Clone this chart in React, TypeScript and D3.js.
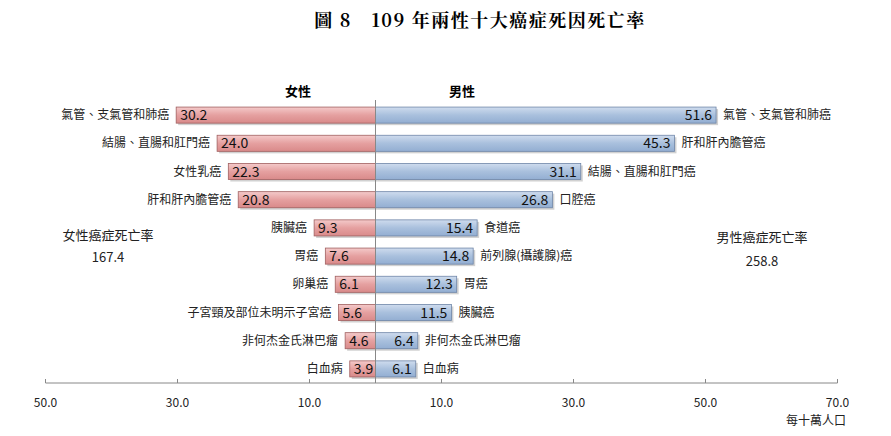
import React from "react";
import * as d3 from "d3";

const femaleCategories = ["氣管、支氣管和肺癌", "結腸、直腸和肛門癌", "女性乳癌", "肝和肝內膽管癌", "胰臟癌", "胃癌", "卵巢癌", "子宮頸及部位未明示子宮癌", "非何杰金氏淋巴瘤", "白血病"];
const femaleValues = [30.2, 24.0, 22.3, 20.8, 9.3, 7.6, 6.1, 5.6, 4.6, 3.9];
const maleCategories = ["氣管、支氣管和肺癌", "肝和肝內膽管癌", "結腸、直腸和肛門癌", "口腔癌", "食道癌", "前列腺(攝護腺)癌", "胃癌", "胰臟癌", "非何杰金氏淋巴瘤", "白血病"];
const maleValues = [51.6, 45.3, 31.1, 26.8, 15.4, 14.8, 12.3, 11.5, 6.4, 6.1];
const leftTicks = [50, 30, 10];
const rightTicks = [10, 30, 50, 70];
const title = "圖 8　109 年兩性十大癌症死因死亡率";
const femaleTotalLabel = "女性癌症死亡率";
const femaleTotal = "167.4";
const maleTotalLabel = "男性癌症死亡率";
const maleTotal = "258.8";
const unitLabel = "每十萬人口";

const W = 891;
const H = 436;
const CENTER = 375.5;
const FONT = "'Noto Sans CJK TC', 'Noto Sans', sans-serif";

export default function App() {
  const xL = d3.scaleLinear().domain([0, 50]).range([CENTER, 45.5]);
  const xR = d3.scaleLinear().domain([0, 70]).range([CENTER, 837.5]);
  const idx = d3.range(femaleValues.length);
  const y = d3.scaleBand<number>().domain(idx).range([101, 383]).paddingInner(0.43).paddingOuter(0.215);
  const bh = y.bandwidth();
  const axisY = 383;

  return (
    <svg width={W} height={H} style={{ position: "absolute", left: 0, top: 0, background: "#fff" }} fontFamily={FONT}>
      <defs>
        <linearGradient id="gF" x1="0" y1="0" x2="0" y2="1">
          <stop offset="0" stopColor="#f4caca" />
          <stop offset="0.5" stopColor="#e5a0a0" />
          <stop offset="1" stopColor="#d98a8a" />
        </linearGradient>
        <linearGradient id="gM" x1="0" y1="0" x2="0" y2="1">
          <stop offset="0" stopColor="#cfdcee" />
          <stop offset="0.5" stopColor="#a9c0dd" />
          <stop offset="1" stopColor="#93aed2" />
        </linearGradient>
      </defs>
      <text x={480} y={27} textAnchor="middle" fontFamily="'Noto Serif CJK TC', 'DejaVu Serif', 'Liberation Serif', serif" fontWeight="bold" fontSize={18} letterSpacing={1.5} fill="#000">{title}</text>
      <text x={298} y={96} textAnchor="middle" fontWeight="bold" fontSize={13}>女性</text>
      <text x={462} y={96} textAnchor="middle" fontWeight="bold" fontSize={13}>男性</text>

      {idx.map((i) => {
        const yy = y(i)!;
        const xf = xL(femaleValues[i]);
        const xm = xR(maleValues[i]);
        const cy = yy + bh / 2;
        return (
          <g key={i}>
            <rect x={xf + 2} y={yy + 2} width={CENTER - xf} height={bh} fill="#999" opacity={0.45} />
            <rect x={xf} y={yy} width={CENTER - xf} height={bh} fill="url(#gF)" stroke="#a06060" strokeWidth={0.8} />
            <rect x={CENTER + 2} y={yy + 2} width={xm - CENTER} height={bh} fill="#999" opacity={0.45} />
            <rect x={CENTER} y={yy} width={xm - CENTER} height={bh} fill="url(#gM)" stroke="#6f86a8" strokeWidth={0.8} />
            <text x={xf + 4} y={cy + 5} fontSize={14} fill="#111">{femaleValues[i].toFixed(1)}</text>
            <text x={xm - 4} y={cy + 5} fontSize={14} fill="#111" textAnchor="end">{maleValues[i].toFixed(1)}</text>
            <text x={xf - 7} y={cy + 4} fontSize={12} fill="#222" textAnchor="end">{femaleCategories[i]}</text>
            <text x={xm + 7} y={cy + 4} fontSize={12} fill="#222">{maleCategories[i]}</text>
          </g>
        );
      })}

      <line x1={CENTER} x2={CENTER} y1={100} y2={axisY} stroke="#888" strokeWidth={1} />
      <line x1={45.5} x2={837.5} y1={axisY} y2={axisY} stroke="#888" strokeWidth={1} />
      {leftTicks.map((t) => (
        <g key={"l" + t}>
          <line x1={xL(t)} x2={xL(t)} y1={axisY} y2={axisY - 4} stroke="#888" />
          <text x={xL(t)} y={407} textAnchor="middle" fontSize={12} fill="#222">{t.toFixed(1)}</text>
        </g>
      ))}
      {rightTicks.map((t) => (
        <g key={"r" + t}>
          <line x1={xR(t)} x2={xR(t)} y1={axisY} y2={axisY - 4} stroke="#888" />
          <text x={xR(t)} y={407} textAnchor="middle" fontSize={12} fill="#222">{t.toFixed(1)}</text>
        </g>
      ))}
      <text x={846} y={425} textAnchor="end" fontSize={12} fill="#222">{unitLabel}</text>

      <text x={108} y={240} textAnchor="middle" fontSize={13} fill="#222">{femaleTotalLabel}</text>
      <text x={108} y={262} textAnchor="middle" fontSize={13} fill="#222">{femaleTotal}</text>
      <text x={762} y={242} textAnchor="middle" fontSize={13} fill="#222">{maleTotalLabel}</text>
      <text x={762} y={266} textAnchor="middle" fontSize={13} fill="#222">{maleTotal}</text>
    </svg>
  );
}
